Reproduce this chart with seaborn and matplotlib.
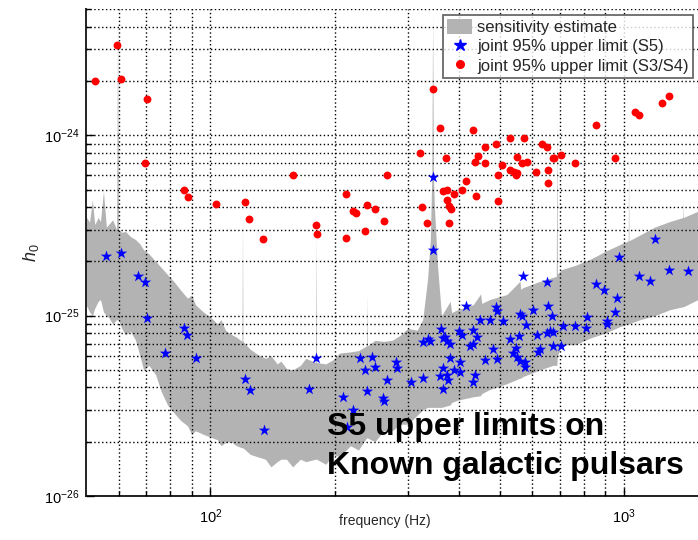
import matplotlib
matplotlib.use("Agg")
import pandas as pd
import matplotlib.pyplot as plt
import seaborn as sns
from matplotlib.patches import Patch
from matplotlib.lines import Line2D
from matplotlib.ticker import FixedLocator, NullFormatter, LogFormatterMathtext

# sensitivity band (Hz, lower edge, upper edge)
band_freq = [50.0, 51.0, 51.8, 52.5, 53.5, 54.2, 55.1, 56.0, 56.7, 58.0, 59.3, 59.6, 59.9, 61.0,
             62.3, 64.0, 65.9, 67.5, 68.9, 71.0, 73.7, 76.0, 78.7, 81.5, 84.6, 88.0, 90.0, 92.0, 96.0, 100,
             104, 106, 108.7, 112, 115.6, 119.2, 119.5, 119.8, 124.9, 130, 135.8, 140, 145, 148, 152.6,
             158, 165, 170, 179.5, 180, 180.5,
             190, 198, 205, 218, 228, 238.5, 239, 239.5, 250, 262, 275, 288, 300, 316,
             326, 335, 340, 343, 344.5, 346, 348, 354, 362,
             380, 383, 396, 432, 450, 453, 474, 521, 560, 563, 570, 626, 673,
             686, 688, 690, 706, 762, 827, 900, 978, 1024, 1026, 1028, 1093, 1187, 1292, 1388, 1390,
             1392, 1511]
band_low = [1.15e-25, 1.05e-25, 1.0e-25, 1.1e-25, 1.2e-25, 1.23e-25, 1.05e-25, 1.0e-25, 9.8e-26,
            9.0e-26, 9.5e-26, 9.5e-26, 9.5e-26, 8.5e-26,
            7.8e-26, 8.2e-26, 7.3e-26, 6.0e-26, 5.0e-26, 5.3e-26, 4.7e-26, 3.8e-26, 3.2e-26, 2.9e-26,
            2.63e-26, 2.45e-26, 2.2e-26, 2.3e-26, 2.2e-26, 2.12e-26,
            2.05e-26, 1.9e-26, 1.98e-26, 2.0e-26, 1.9e-26, 1.85e-26, 1.85e-26, 1.85e-26, 1.7e-26,
            1.65e-26, 1.6e-26, 1.45e-26, 1.55e-26, 1.6e-26, 1.6e-26, 1.45e-26, 1.6e-26, 1.55e-26,
            1.6e-26, 1.6e-26, 1.6e-26,
            1.5e-26, 1.7e-26, 1.65e-26, 1.9e-26, 1.8e-26, 2.1e-26, 2.1e-26, 2.1e-26, 2.0e-26,
            2.3e-26, 2.3e-26, 2.5e-26, 2.5e-26, 2.8e-26,
            3.0e-26, 3.1e-26, 3.1e-26, 3.1e-26, 3.1e-26, 3.1e-26, 3.1e-26, 3.1e-26, 3.1e-26,
            3.2e-26, 3.3e-26, 3.4e-26, 3.55e-26, 3.6e-26, 3.7e-26, 3.9e-26, 4.2e-26, 4.5e-26,
            4.5e-26, 4.6e-26, 5.0e-26, 5.3e-26,
            5.3e-26, 5.3e-26, 6.0e-26, 6.9e-26, 6.9e-26, 7.5e-26, 8.0e-26, 8.7e-26, 9.0e-26,
            9.0e-26, 9.0e-26, 9.5e-26, 1.0e-25, 1.08e-25, 1.12e-25, 1.12e-25, 1.12e-25, 1.23e-25]
band_high = [3.55e-25, 3.3e-25, 4.4e-25, 3.2e-25, 3.5e-25, 3.33e-25, 4.9e-25, 3.1e-25, 3.2e-25,
             3.4e-25, 3.0e-25, 4.5e-24, 3.0e-25, 2.9e-25,
             2.93e-25, 2.75e-25, 2.64e-25, 2.5e-25, 2.32e-25, 2.2e-25, 2.0e-25, 1.85e-25, 1.69e-25,
             1.55e-25, 1.39e-25, 1.25e-25, 1.3e-25, 1.15e-25, 1.05e-25, 9.8e-26,
             9.0e-26, 9.5e-26, 8.3e-26, 7.9e-26, 7.6e-26, 7.2e-26, 3.5e-25, 7.2e-26, 6.5e-26,
             6.1e-26, 5.8e-26, 6.0e-26, 5.4e-26, 5.6e-26, 5.1e-26, 5.0e-26, 5.3e-26, 5.8e-26,
             5.5e-26, 2.9e-25, 5.5e-26,
             5.4e-26, 5.7e-26, 6.2e-26, 6.3e-26, 6.4e-26, 6.8e-26, 1.3e-25, 6.8e-26, 7.3e-26,
             7.2e-26, 7.3e-26, 7.8e-26, 8.5e-26, 8.3e-26,
             9.5e-26, 1.6e-25, 2.6e-25, 6.0e-25, 4.8e-24, 6.0e-25, 4.0e-25, 1.9e-25, 1.0e-25,
             1.2e-25, 1.04e-25, 1.08e-25, 1.15e-25, 1.32e-25, 1.17e-25, 1.23e-25, 1.31e-25,
             1.55e-25, 1.4e-25, 1.43e-25, 1.55e-25, 1.63e-25,
             1.65e-25, 1.26e-24, 1.7e-25, 1.8e-25, 1.9e-25, 2.05e-25, 2.27e-25, 2.48e-25, 2.6e-25,
             7.6e-25, 2.6e-25, 2.8e-25, 3.1e-25, 3.33e-25, 3.5e-25, 4.4e-25, 3.5e-25, 3.8e-25]

# joint 95% upper limits, S5 (stars)
s5_freq = [55.8, 60.9, 66.9, 69.3, 70.1, 86.4, 87.8, 77.7, 92, 121.5, 124.4, 134.8, 172.7,
           180, 208.7, 221, 214, 230, 237, 246, 250, 239, 262, 263, 267, 281, 283, 306,
           326, 326, 335, 340, 346, 345, 361, 370, 366, 373, 380, 398, 406, 431, 442, 424,
           432, 380, 401, 387, 401, 373, 366, 359, 376, 366, 432, 437, 461, 482, 494, 415,
           489, 494, 449, 474, 510, 530, 548, 540, 551, 561, 575, 575, 556, 561, 566, 579,
           603, 655, 670, 615, 626, 620, 650, 662, 675, 675, 706, 711, 762, 811, 814, 909,
           909, 952, 960, 571, 653, 858, 894, 975, 1085, 1156, 1190, 1286, 1428]
s5_h0 = [2.14e-25, 2.22e-25, 1.65e-25, 1.53e-25, 9.7e-26, 8.5e-26, 7.8e-26, 6.2e-26,
         5.8e-26, 4.45e-26, 3.85e-26, 2.32e-26, 3.9e-26, 5.8e-26, 3.55e-26, 3.0e-26,
         2.4e-26, 5.8e-26, 5.0e-26, 5.9e-26, 5.2e-26, 3.8e-26, 3.5e-26, 3.35e-26, 4.4e-26,
         5.5e-26, 5.1e-26, 4.3e-26, 4.5e-26, 7.1e-26, 7.4e-26, 7.2e-26, 5.9e-25, 2.3e-25,
         8.4e-26, 7.6e-26, 7.5e-26, 7.2e-26, 7.0e-26, 8.2e-26, 7.8e-26, 8.3e-26, 7.6e-26,
         6.8e-26, 7.0e-26, 5.8e-26, 5.5e-26, 5.0e-26, 4.85e-26, 4.7e-26, 5.1e-26, 4.6e-26,
         4.4e-26, 3.9e-26, 4.3e-26, 4.7e-26, 5.7e-26, 6.5e-26, 5.75e-26, 1.13e-25,
         1.12e-25, 1.06e-25, 9.5e-26, 9.5e-26, 9.3e-26, 7.4e-26, 6.6e-26, 6.2e-26, 5.9e-26,
         5.6e-26, 5.2e-26, 5.5e-26, 7.7e-26, 1.02e-25, 9.9e-26, 8.9e-26, 1.08e-25,
         1.13e-25, 9.9e-26, 7.8e-26, 6.5e-26, 6.3e-26, 8.0e-26, 8.2e-26, 8.1e-26, 6.8e-26,
         6.8e-26, 8.8e-26, 8.8e-26, 8.5e-26, 9.8e-26, 9.4e-26, 9.0e-26, 1.05e-25,
         1.26e-25, 1.65e-25, 1.53e-25, 1.49e-25, 1.39e-25, 2.11e-25, 1.65e-25, 1.56e-25,
         2.67e-25, 1.79e-25, 1.77e-25]

# joint 95% upper limits, S3/S4 (dots)
s34_freq = [52.7, 59.4, 60.9, 70.1, 69.3, 86.4, 88.0, 103, 121, 124, 134, 158, 180, 181,
            213, 213, 221, 225, 239, 250, 237, 263, 267, 321, 346, 359, 371, 364, 373, 373,
            325, 333, 378, 378, 381, 387, 406, 416, 438, 432, 461, 443, 437, 461, 489, 530,
            572, 551, 508, 530, 543, 551, 566, 582, 496, 495, 548, 614, 633, 653, 672, 678,
            704, 655, 656, 762, 858, 953, 1061, 1085, 1238, 1283]
s34_h0 = [2.0e-24, 3.15e-24, 2.05e-24, 1.6e-24, 7.0e-25, 5.0e-25, 4.55e-25, 4.15e-25,
          4.25e-25, 3.45e-25, 2.65e-25, 6.0e-25, 3.2e-25, 2.85e-25, 4.75e-25, 2.7e-25,
          3.8e-25, 3.7e-25, 4.1e-25, 3.9e-25, 2.95e-25, 3.35e-25, 6.05e-25, 8.0e-25,
          1.8e-24, 1.1e-24, 7.45e-25, 4.9e-25, 5.0e-25, 4.4e-25, 4.0e-25, 3.25e-25,
          3.25e-25, 4.05e-25, 3.9e-25, 4.75e-25, 5.0e-25, 5.55e-25, 4.6e-25, 1.07e-24,
          8.6e-25, 7.7e-25, 7.15e-25, 7.05e-25, 9.0e-25, 9.7e-25, 9.7e-25, 7.6e-25,
          6.85e-25, 6.45e-25, 6.25e-25, 6.2e-25, 7.0e-25, 7.15e-25, 6.0e-25, 4.35e-25,
          6.05e-25, 6.25e-25, 8.9e-25, 8.6e-25, 7.45e-25, 7.45e-25, 7.8e-25, 6.45e-25,
          5.45e-25, 7.05e-25, 1.14e-24, 7.5e-25, 1.35e-24, 1.29e-24, 1.52e-24, 1.66e-24]

# axis ticks
x_major = [100, 1000]
x_minor = [60, 70, 80, 90, 200, 300, 400, 500, 600, 700, 800, 900]
y_major = [1e-26, 1e-25, 1e-24]
y_minor = [m * 10.0 ** e for e in (-26, -25) for m in range(2, 10)] + [2e-24, 3e-24, 4e-24, 5e-24]

sns.set_theme(style="white")
plt.rcParams['font.family'] = ['Liberation Sans', 'DejaVu Sans']
plt.rcParams['mathtext.fontset'] = 'custom'
plt.rcParams['mathtext.rm'] = 'Liberation Sans'
plt.rcParams['mathtext.it'] = 'Liberation Sans:italic'

band = pd.DataFrame({'freq': band_freq, 'low': band_low, 'high': band_high})
s5 = pd.DataFrame({'freq': s5_freq, 'h0': s5_h0})
s34 = pd.DataFrame({'freq': s34_freq, 'h0': s34_h0})

fig = plt.figure(figsize=(6.98, 5.40), dpi=100)
ax = fig.add_axes([86 / 698, 44 / 540, 612 / 698, 487.5 / 540])
ax.set_xscale('log')
ax.set_yscale('log')

ax.fill_between(band['freq'], band['low'], band['high'], color='#b3b3b3', lw=0, zorder=1)
sns.scatterplot(data=s34, x='freq', y='h0', marker='o', color='#ff0000', s=32,
                linewidth=0, ax=ax, zorder=4)
sns.scatterplot(data=s5, x='freq', y='h0', marker='*', color='#0000ff', s=75,
                linewidth=0, ax=ax, zorder=5)

ax.set_xlim(50, 1510)
ax.set_ylim(1e-26, 5.05e-24)

ax.xaxis.set_major_locator(FixedLocator(x_major))
ax.xaxis.set_minor_locator(FixedLocator(x_minor))
ax.yaxis.set_major_locator(FixedLocator(y_major))
ax.yaxis.set_minor_locator(FixedLocator(y_minor))
ax.xaxis.set_major_formatter(LogFormatterMathtext())
ax.yaxis.set_major_formatter(LogFormatterMathtext())
ax.xaxis.set_minor_formatter(NullFormatter())
ax.yaxis.set_minor_formatter(NullFormatter())

ax.grid(True, which='both', color='black', linestyle=(0, (1, 1.8)), linewidth=1.0, zorder=3)
ax.set_axisbelow(False)
ax.tick_params(which='both', direction='in', colors='black', labelsize=10.5)
ax.tick_params(which='major', length=6, width=1)
ax.tick_params(which='minor', length=3.5, width=1)
ax.tick_params(axis='x', pad=8)
ax.tick_params(axis='y', pad=5)
ax.tick_params(axis='x', which='both', top=False, bottom=True)
ax.tick_params(axis='y', which='both', right=False, left=True)

for side in ['top', 'right']:
    ax.spines[side].set_visible(False)
for side in ['left', 'bottom']:
    ax.spines[side].set_color('#222222')
    ax.spines[side].set_linewidth(1.4)

ax.set_xlabel('frequency (Hz)', fontsize=10)
ax.xaxis.set_label_coords((385 - 86) / 612, (496 - 514) / 487.5)
ax.set_ylabel('$h_0$', fontsize=13, labelpad=2)

handles = [Patch(facecolor='#b3b3b3', edgecolor='none'),
           Line2D([], [], marker='*', color='#0000ff', linestyle='none', markersize=9),
           Line2D([], [], marker='o', color='#ff0000', linestyle='none', markersize=5.5)]
labels = ['sensitivity estimate', 'joint 95% upper limit (S5)', 'joint 95% upper limit (S3/S4)']
leg = ax.legend(handles, labels, loc='upper right', bbox_to_anchor=(1 - 5 / 612, 1 - 6 / 487.5),
                borderaxespad=0, fontsize=12, frameon=True, fancybox=False,
                handlelength=1.5, handleheight=1.0, handletextpad=0.3, borderpad=0.25,
                labelspacing=0.2)
leg.get_frame().set_edgecolor('#444444')
leg.get_frame().set_linewidth(1.3)
leg.set_zorder(10)

fig.text(327 / 698, (540 - 481) / 540, 'S5 upper limits on\nKnown galactic pulsars',
         fontsize=23, fontweight='bold', color='black', ha='left', va='bottom',
         linespacing=1.4, zorder=11)

fig.savefig('out.png', dpi=100)
